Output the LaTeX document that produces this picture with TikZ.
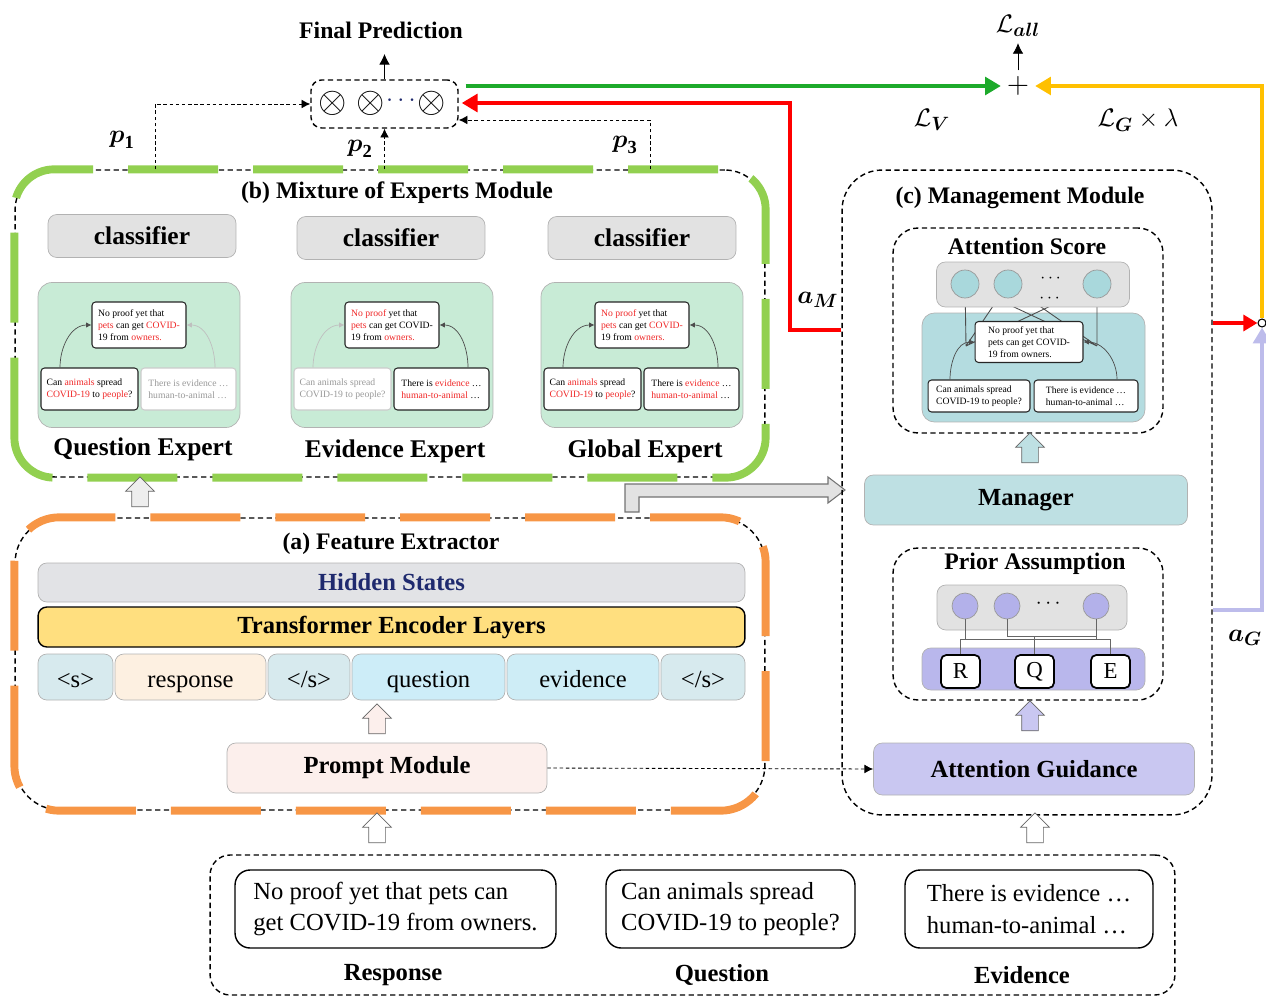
\documentclass[tikz,border=0pt]{standalone}
\usepackage{fontspec}
\usepackage{amsmath}
\setmainfont{Liberation Serif}
\usetikzlibrary{shapes.arrows,calc,arrows.meta}

\definecolor{moegreen}{HTML}{92D050}
\definecolor{feorange}{HTML}{F79646}
\definecolor{lossgreen}{HTML}{1DAA2B}
\definecolor{lossred}{HTML}{FF0000}
\definecolor{lossyellow}{HTML}{FFC000}
\definecolor{guidelav}{HTML}{BDBCEB}
\definecolor{expgreen}{HTML}{C8EBD6}
\definecolor{clsgray}{HTML}{E2E2E2}
\definecolor{attteal}{HTML}{B4DCE0}
\definecolor{mgrteal}{HTML}{BEE0E3}
\definecolor{tcircfill}{HTML}{A9D8DC}
\definecolor{lcircfill}{HTML}{B3B1EA}
\definecolor{lavpanel}{HTML}{B9B7EC}
\definecolor{lavbox}{HTML}{C9C7F1}
\definecolor{hlred}{HTML}{F02828}
\definecolor{hidgray}{HTML}{E2E3E6}
\definecolor{hidtext}{HTML}{1F2A6E}
\definecolor{encyellow}{HTML}{FFDF7F}
\definecolor{tokblue}{HTML}{D7EAEE}
\definecolor{tokpeach}{HTML}{FDF0E1}
\definecolor{tokcyan}{HTML}{CDEDF8}
\definecolor{promptpink}{HTML}{FCEFEC}

\newcommand{\rd}[1]{\textcolor{hlred}{#1}}

\tikzset{
  headline/.style={font=\fontsize{13.5}{16}\selectfont\bfseries},
  mathlabel/.style={font=\fontsize{15}{17}\selectfont},
  dashbox/.style={draw, line width=0.8pt, dash pattern=on 3pt off 2pt},
  blockbox/.style={draw=black!30, rounded corners=5pt, inner sep=0pt,
    font=\fontsize{14}{16}\selectfont\bfseries},
  tokbox/.style={draw=black!30, rounded corners=5pt, inner sep=0pt,
    minimum height=0.92cm, text height=13pt, text depth=1pt,
    font=\fontsize{14}{16}\selectfont},
  panel/.style={draw=black!30, fill=expgreen, rounded corners=8pt,
    minimum width=4.04cm, minimum height=2.9cm},
  tinybox/.style={draw=black!85, line width=0.6pt, rounded corners=2pt, fill=white,
    align=left, inner sep=1pt, font=\fontsize{5.5}{6.8}\selectfont},
  fadebox/.style={tinybox, draw=black!20, text=black!40},
  flowarc/.style={draw=black!70, line width=0.4pt, -{Latex[length=3pt,width=3pt]}},
  hollowup/.style={single arrow, draw=black!60, shape border rotate=90,
    single arrow head extend=0.12cm, minimum height=0.6cm, inner sep=0.16cm},
  pline/.style={line width=0.5pt, dash pattern=on 2pt off 1.5pt, -{Latex[length=5pt,width=5pt]}},
  tcirc/.style={circle, draw=black!40, fill=tcircfill, minimum size=0.56cm, inner sep=0pt},
  lcirc/.style={circle, draw=black!40, fill=lcircfill, minimum size=0.52cm, inner sep=0pt},
  letterbox/.style={draw, line width=1pt, rounded corners=3pt, fill=white,
    minimum width=0.78cm, minimum height=0.66cm, font=\fontsize{13}{15}\selectfont},
  inputbox/.style={draw, line width=0.8pt, rounded corners=0.3cm, minimum height=1.56cm,
    align=left, inner sep=0pt, font=\fontsize{14}{18}\selectfont}
}

\begin{document}
\begin{tikzpicture}[x=0.02cm,y=-0.02cm]
\useasboundingbox (0,0) rectangle (1266,996);

% combiner and losses
\node[dashbox, rounded corners=6pt, minimum width=2.94cm, minimum height=0.96cm] (comb) at (384.5,104) {};
\node[font=\fontsize{21}{21}\selectfont] (ot1) at (333,103) {$\otimes$};
\node[font=\fontsize{21}{21}\selectfont] (ot2) at (371,103) {$\otimes$};
\node[font=\fontsize{14}{14}\selectfont, text=hidtext] (otdots) at (403,101) {$\cdots$};
\node[font=\fontsize{21}{21}\selectfont] (ot3) at (432,103) {$\otimes$};
\node[headline] (final) at (381,30) {Final Prediction};
\draw[-{Latex[length=6pt,width=6pt]}] (comb.north) -- (comb.north |- 0,54);

\node[font=\fontsize{18}{18}\selectfont] (plus) at (1018,86) {$+$};
\node[mathlabel] (lall) at (1018,26) {$\mathcal{L}_{\boldsymbol{all}}$};
\draw[-{Latex[length=6pt,width=6pt]}] (plus.north) -- (lall.south);
\node[mathlabel] (lv) at (932,120) {$\mathcal{L}_{\boldsymbol{V}}$};
\node[mathlabel] (lg) at (1138,120) {$\mathcal{L}_{\boldsymbol{G}}\times\lambda$};

% (b) mixture of experts
\node[dashbox, rounded corners=0.8cm, minimum width=15cm, minimum height=6.14cm] (moe) at (390,323.5) {};
\draw[moegreen, line width=4.5pt, dash pattern=on 1.8cm off 0.7cm, dash phase=0.2cm, rounded corners=0.8cm]
  (moe.south west) rectangle (moe.north east);
\node[headline] (moetitle) at (397,193) {(b) Mixture of Experts Module};

\node[blockbox, fill=clsgray, minimum width=3.76cm, minimum height=0.86cm, font=\fontsize{14.5}{16}\selectfont\bfseries] (cls1) at (142,236) {classifier};
\node[blockbox, fill=clsgray, minimum width=3.76cm, minimum height=0.86cm, font=\fontsize{14.5}{16}\selectfont\bfseries] (cls2) at (391,238) {classifier};
\node[blockbox, fill=clsgray, minimum width=3.76cm, minimum height=0.86cm, font=\fontsize{14.5}{16}\selectfont\bfseries] (cls3) at (642,238) {classifier};

% question expert
\node[panel] (qpanel) at (139,355) {};
\node[tinybox, minimum width=1.88cm, minimum height=0.92cm] (qtop) at (139,325) {No proof yet that\\\rd{pets} can get \rd{COVID-}\\19 from \rd{owners.}};
\node[tinybox, minimum width=1.94cm, minimum height=0.84cm] (qleft) at (89.5,389) {Can \rd{animals} spread\\\rd{COVID-19} to \rd{people}?};
\node[fadebox, minimum width=1.9cm, minimum height=0.84cm] (qright) at (188.5,389) {There is evidence \dots\\human-to-animal \dots};
\draw[flowarc] ([xshift=-0.59cm]qleft.north) to[out=90,in=180] (qtop.west);
\draw[flowarc, draw=black!25] ([xshift=0.53cm]qright.north) to[out=90,in=0] (qtop.east);
\node[headline, font=\fontsize{14.5}{16}\selectfont\bfseries] (qname) at (143,449) {Question Expert};

% evidence expert
\begin{scope}[shift={(253,0)}]
\node[panel] (epanel) at (139,355) {};
\node[tinybox, minimum width=1.88cm, minimum height=0.92cm] (etop) at (139,325) {\rd{No proof} yet that\\\rd{pets} can get COVID-\\19 from \rd{owners.}};
\node[fadebox, minimum width=1.94cm, minimum height=0.84cm] (eleft) at (89.5,389) {Can animals spread\\COVID-19 to people?};
\node[tinybox, minimum width=1.9cm, minimum height=0.84cm] (eright) at (188.5,389) {There is \rd{evidence} \dots\\\rd{human-to-animal} \dots};
\draw[flowarc, draw=black!25] ([xshift=-0.59cm]eleft.north) to[out=90,in=180] (etop.west);
\draw[flowarc] ([xshift=0.53cm]eright.north) to[out=90,in=0] (etop.east);
\node[headline, font=\fontsize{14.5}{16}\selectfont\bfseries] (ename) at (142,451) {Evidence Expert};
\end{scope}

% global expert
\begin{scope}[shift={(503,0)}]
\node[panel] (gpanel) at (139,355) {};
\node[tinybox, minimum width=1.88cm, minimum height=0.92cm] (gtop) at (139,325) {\rd{No proof} yet that\\\rd{pets} can get \rd{COVID-}\\19 from \rd{owners.}};
\node[tinybox, minimum width=1.94cm, minimum height=0.84cm] (gleft) at (89.5,389) {Can \rd{animals} spread\\\rd{COVID-19} to \rd{people}?};
\node[tinybox, minimum width=1.9cm, minimum height=0.84cm] (gright) at (188.5,389) {There is \rd{evidence} \dots\\\rd{human-to-animal} \dots};
\draw[flowarc] ([xshift=-0.59cm]gleft.north) to[out=90,in=180] (gtop.west);
\draw[flowarc] ([xshift=0.53cm]gright.north) to[out=90,in=0] (gtop.east);
\node[headline, font=\fontsize{14.5}{16}\selectfont\bfseries] (gname) at (142,451) {Global Expert};
\end{scope}

% expert outputs
\node[mathlabel] (p1) at (122,140) {$\boldsymbol{p}_{\mathbf{1}}$};
\node[mathlabel] (p2) at (360,149) {$\boldsymbol{p}_{\mathbf{2}}$};
\node[mathlabel] (p3) at (625,145) {$\boldsymbol{p}_{\mathbf{3}}$};
\draw[pline] (moe.north -| 155,0) |- (comb.west);
\draw[pline] (moe.north -| comb.south) -- (comb.south);
\draw[pline] (moe.north -| 650,0) |- ($(comb.east)+(0,16)$);

% (a) feature extractor
\node[dashbox, rounded corners=0.9cm, minimum width=15cm, minimum height=5.84cm] (fe) at (390,664) {};
\draw[feorange, line width=4.5pt, dash pattern=on 1.8cm off 0.7cm, dash phase=0.2cm, rounded corners=0.9cm]
  (fe.south west) rectangle (fe.north east);
\node[headline] (fetitle) at (391,544) {(a) Feature Extractor};
\node[blockbox, fill=hidgray, text=hidtext, minimum width=14.14cm, minimum height=0.78cm] (hidden) at (391.5,582.5) {Hidden States};
\node[blockbox, draw=black, line width=0.8pt, fill=encyellow, minimum width=14.14cm, minimum height=0.8cm] (encoder) at (391.5,627) {Transformer Encoder Layers};
\node[tokbox, fill=tokblue, minimum width=1.5cm] (tok1) at (75.5,677) {<s>};
\node[tokbox, fill=tokpeach, minimum width=3.02cm] (tok2) at (190.5,677) {response};
\node[tokbox, fill=tokblue, minimum width=1.64cm] (tok3) at (309,677) {</s>};
\node[tokbox, fill=tokcyan, minimum width=3.06cm] (tok4) at (428.5,677) {question};
\node[tokbox, fill=tokcyan!85!tokblue, minimum width=3.04cm] (tok5) at (583,677) {evidence};
\node[tokbox, fill=tokblue, minimum width=1.68cm] (tok6) at (703,677) {</s>};
\node[blockbox, fill=promptpink, minimum width=6.4cm, minimum height=1cm] (prompt) at (387,768) {Prompt Module};
\node[hollowup, fill=promptpink] (uptok) at (377,723) {};
\node[hollowup, fill=clsgray!60] (upmoe) at (140,496) {};

% feature extractor to management module
\draw[draw=black!55, fill=clsgray, line width=0.6pt]
  (625,512) -- (625,484) -- (828,484) -- (828,477) -- (845,490) -- (828,503) -- (828,497)
  -- (639,497) -- (639,512) -- cycle;

% (c) management module
\node[dashbox, rounded corners=0.8cm, minimum width=7.4cm, minimum height=12.9cm] (mgmt) at (1027,492.5) {};
\node[headline] (mgmttitle) at (1020,198) {(c) Management Module};

\node[dashbox, rounded corners=0.5cm, minimum width=5.4cm, minimum height=4.1cm] (att) at (1028,330.5) {};
\node[headline] (atttitle) at (1027,246) {Attention Score};
\node[draw=black!30, fill=attteal, rounded corners=7pt, minimum width=4.46cm, minimum height=2.18cm] (attpanel) at (1033.5,367.5) {};
\coordinate (lp) at (966,346);
\coordinate (rp) at (1097,346);
\draw[black!70, line width=0.5pt] (965,284) -- (lp) (965,284) -- (rp) (1008,284) -- (lp)
  (1008,284) -- (rp) (1097,284) -- (lp) (1097,284) -- (rp);
\node[draw=black!30, fill=clsgray, rounded corners=5pt, minimum width=3.86cm, minimum height=0.9cm] (attbar) at (1033,284.5) {};
\node[tcirc] (ac1) at (965,284) {};
\node[tcirc] (ac2) at (1008,284) {};
\node[tcirc] (ac3) at (1097,284) {};
\node[font=\fontsize{10}{10}\selectfont, inner sep=0pt] (adots1) at (1052,279) {$\cdots$};
\node[font=\fontsize{10}{10}\selectfont, inner sep=0pt] (adots2) at (1051,299) {$\cdots$};
\node[tinybox, minimum width=2.16cm, minimum height=0.82cm] (atop) at (1029,342) {No proof yet that\\pets can get COVID-\\19 from owners.};
\node[tinybox, minimum width=2.04cm, minimum height=0.64cm] (aleft) at (979,396) {Can animals spread\\COVID-19 to people?};
\node[tinybox, minimum width=2.08cm, minimum height=0.64cm] (aright) at (1086,396) {There is evidence \dots\\human-to-animal \dots};
\draw[flowarc] ([xshift=-0.58cm]aleft.north) to[out=90,in=180] (atop.west);
\draw[flowarc] ([xshift=0.62cm]aright.north) to[out=90,in=0] (atop.east);

\node[hollowup, fill=mgrteal] (upatt) at (1030,452) {};
\node[blockbox, fill=mgrteal, minimum width=6.46cm, minimum height=1cm] (manager) at (1026,500) {Manager};

\node[dashbox, rounded corners=0.5cm, minimum width=5.4cm, minimum height=3.04cm] (prior) at (1028,624) {};
\node[headline] (priortitle) at (1035,564) {Prior Assumption};
\node[draw=black!30, fill=lavpanel, rounded corners=5pt, minimum width=4.46cm, minimum height=0.84cm] (priorpanel) at (1033.5,669) {};
\node[draw=black!30, fill=clsgray, rounded corners=5pt, minimum width=3.8cm, minimum height=0.9cm] (priorbar) at (1032,607.5) {};
\node[lcirc] (pc1) at (965,606) {};
\node[lcirc] (pc2) at (1007,606) {};
\node[lcirc] (pc3) at (1096,606) {};
\node[font=\fontsize{12}{12}\selectfont] (pdots) at (1050,604) {$\cdots$};
\node[letterbox] (rbox) at (960.5,671.5) {R};
\node[letterbox] (qbox) at (1034.5,671.5) {Q};
\node[letterbox] (ebox) at (1110.5,671.5) {E};
\draw[black!60, line width=0.5pt] (pc1.south) -- (pc1.south |- 0,639) (pc2.south) -- (pc2.south |- 0,636)
  (pc3.south) -- (pc3.south |- 0,639) (pc2.south |- 0,636) -- (pc3.south |- 0,636)
  (rbox.north |- 0,639) -- (ebox.north |- 0,639)
  (rbox.north |- 0,639) -- (rbox.north) (qbox.north |- 0,636) -- (qbox.north) (ebox.north |- 0,639) -- (ebox.north);

\node[hollowup, fill=lavbox] (upprior) at (1030,720) {};
\node[blockbox, fill=lavbox, minimum width=6.42cm, minimum height=1.04cm] (guide) at (1034,769) {Attention Guidance};
\draw[pline] (prompt.east) -- (guide.west);

% loss and weight arrows
\node[circle, draw, line width=0.6pt, fill=white, minimum size=0.16cm, inner sep=0pt] (hub) at (1262,323) {};
\draw[lossgreen, line width=2.8pt, -{Triangle[length=9pt,width=10pt]}] ($(comb.east)+(7,-18)$) -- (plus.west);
\draw[lossred, line width=2.8pt, -{Triangle[length=9pt,width=10pt]}] (mgmt.west |- 0,330) -| (790,103) -- ($(comb.east)+(3,-1)$);
\draw[lossred, line width=2.8pt, -{Triangle[length=8pt,width=9pt]}] (mgmt.east |- hub.west) -- (hub.west);
\draw[lossyellow, line width=2.5pt, -{Triangle[length=9pt,width=10pt]}] (hub.north) |- (plus.east);
\draw[guidelav, line width=2.8pt, -{Triangle[length=9pt,width=10pt]}] (mgmt.east |- 0,610) -| (hub.south);
\node[mathlabel] (am) at (818,300) {$\boldsymbol{a}_{\boldsymbol{M}}$};
\node[mathlabel] (ag) at (1245,638) {$\boldsymbol{a}_{\boldsymbol{G}}$};

% inputs
\node[dashbox, rounded corners=0.4cm, minimum width=19.3cm, minimum height=2.8cm] (inputs) at (692.5,925) {};
\node[inputbox, minimum width=6.42cm] (resp) at (395.5,909) {No proof yet that pets can\\get COVID-19 from owners.};
\node[inputbox, minimum width=4.98cm] (ques) at (730.5,909) {Can animals spread\\COVID-19 to people?};
\node[inputbox, minimum width=4.96cm] (evid) at (1029,909) {There is evidence \dots\\human-to-animal \dots};
\node[headline, font=\fontsize{14}{16}\selectfont\bfseries] (resplabel) at (393,975) {Response};
\node[headline, font=\fontsize{14}{16}\selectfont\bfseries] (queslabel) at (722,975) {Question};
\node[headline, font=\fontsize{14}{16}\selectfont\bfseries] (evidlabel) at (1022,975) {Evidence};
\node[hollowup, fill=white] (upfe) at (377,832) {};
\node[hollowup, fill=white] (upmgmt) at (1035,832) {};
\end{tikzpicture}
\end{document}
